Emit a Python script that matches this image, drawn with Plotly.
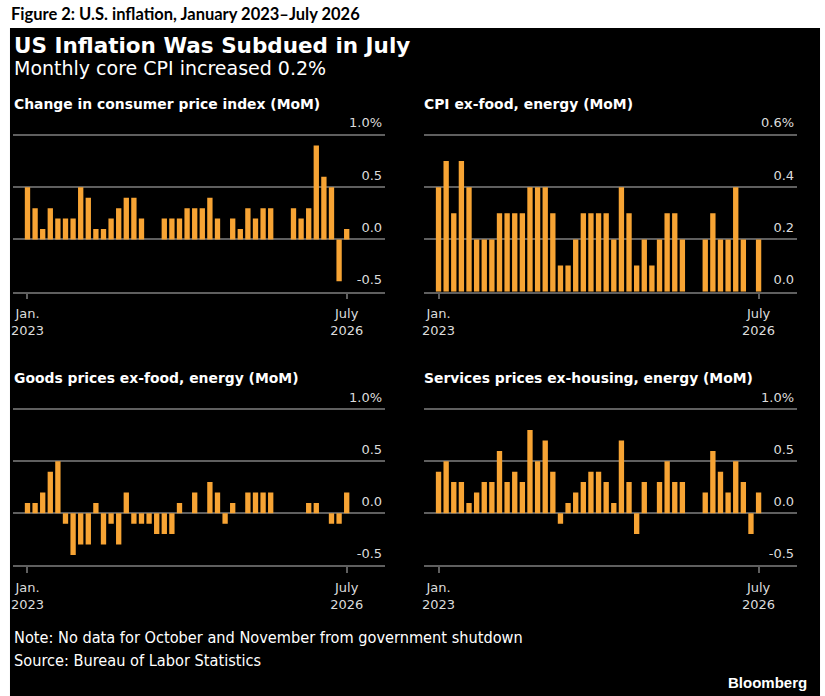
import plotly.graph_objects as go

W, H = 825, 696

months = [
    "2023-01", "2023-02", "2023-03", "2023-04", "2023-05", "2023-06", "2023-07", "2023-08",
    "2023-09", "2023-10", "2023-11", "2023-12", "2024-01", "2024-02", "2024-03", "2024-04",
    "2024-05", "2024-06", "2024-07", "2024-08", "2024-09", "2024-10", "2024-11", "2024-12",
    "2025-01", "2025-02", "2025-03", "2025-04", "2025-05", "2025-06", "2025-07", "2025-08",
    "2025-09", "2025-10", "2025-11", "2025-12", "2026-01", "2026-02", "2026-03", "2026-04",
    "2026-05", "2026-06", "2026-07",
]
x_tick_labels = ["Jan.<br>2023", "July<br>2026"]

cpi = [0.5, 0.3, 0.1, 0.3, 0.2, 0.2, 0.2, 0.5, 0.4, 0.1, 0.1, 0.2, 0.3, 0.4, 0.4, 0.2,
       0.0, 0.0, 0.2, 0.2, 0.2, 0.3, 0.3, 0.3, 0.4, 0.2, 0.0, 0.2, 0.1, 0.3, 0.2, 0.3,
       0.3, None, None, 0.3, 0.2, 0.3, 0.9, 0.6, 0.5, -0.4, 0.1]
core = [0.4, 0.5, 0.3, 0.5, 0.4, 0.2, 0.2, 0.2, 0.3, 0.3, 0.3, 0.3, 0.4, 0.4, 0.4, 0.3,
        0.1, 0.1, 0.2, 0.3, 0.3, 0.3, 0.3, 0.2, 0.4, 0.3, 0.1, 0.2, 0.1, 0.2, 0.3, 0.3,
        0.2, None, None, 0.2, 0.3, 0.2, 0.2, 0.4, 0.2, 0.0, 0.2]
goods = [0.1, 0.1, 0.2, 0.4, 0.5, -0.1, -0.4, -0.3, -0.3, 0.1, -0.3, -0.1, -0.3, 0.2, -0.1, -0.1,
         -0.1, -0.2, -0.2, -0.2, 0.1, 0.0, 0.2, 0.0, 0.3, 0.2, -0.1, 0.1, 0.0, 0.2, 0.2, 0.2,
         0.2, None, None, 0.0, 0.0, 0.1, 0.1, 0.0, -0.1, -0.1, 0.2]
services = [0.4, 0.5, 0.3, 0.3, 0.1, 0.2, 0.3, 0.3, 0.6, 0.3, 0.4, 0.3, 0.8, 0.5, 0.7, 0.4,
            -0.1, 0.1, 0.2, 0.3, 0.4, 0.4, 0.3, 0.1, 0.7, 0.3, -0.2, 0.3, 0.0, 0.3, 0.5, 0.3,
            0.3, None, None, 0.2, 0.6, 0.4, 0.2, 0.5, 0.3, -0.2, 0.2]

wide_ticks = [-0.5, 0.0, 0.5, 1.0]
wide_labels = ["-0.5", "0.0", "0.5", "1.0%"]
core_ticks = [0.0, 0.2, 0.4, 0.6]
core_labels = ["0.0", "0.2", "0.4", "0.6%"]

panel_titles = [
    "Change in consumer price index (MoM)",
    "CPI ex-food, energy (MoM)",
    "Goods prices ex-food, energy (MoM)",
    "Services prices ex-housing, energy (MoM)",
]

ORANGE = "#F7A434"
GRID = "#5f5f5f"
LABEL = "#dcdcdc"
TICKFONT = dict(family="DejaVu Sans", size=13, color=LABEL)


def px_x(p):
    return p / W


def px_y(p):
    return 1 - p / H


fig = go.Figure()

series = [cpi, core, goods, services]
axis_ids = [("x", "y"), ("x2", "y2"), ("x3", "y3"), ("x4", "y4")]
for vals, (xa, ya) in zip(series, axis_ids):
    fig.add_trace(go.Bar(x=months, y=vals, xaxis=xa, yaxis=ya,
                         marker=dict(color=ORANGE, line=dict(width=0)),
                         hoverinfo="skip", showlegend=False))

PAD = 20  # blank space above the top gridline inside each plot area
left_dom = [px_x(10.7), px_x(384)]
right_dom = [px_x(422.7), px_x(797)]
top_dom = [px_y(291.7), px_y(135 - PAD)]
bot_dom = [px_y(565.3), px_y(409.3 - PAD)]

top_wide_rng = [-0.5, 1.0 + PAD * 1.5 / (291.7 - 135)]
top_core_rng = [0.0, 0.6 + PAD * 0.6 / (291.7 - 135)]
bot_wide_rng = [-0.5, 1.0 + PAD * 1.5 / (565.3 - 409.3)]

XR = [-1.95, 47.05]


def xaxis(domain, anchor):
    return dict(domain=domain, anchor=anchor, type="category", range=XR,
                tickvals=[months[0], months[-1]], ticktext=x_tick_labels,
                showgrid=False, zeroline=False, showline=True, linecolor=GRID, linewidth=1.5,
                ticks="outside", ticklen=6, tickwidth=1.5, tickcolor=GRID,
                ticklabelstandoff=3, tickfont=TICKFONT, fixedrange=True)


def yaxis(domain, anchor, rng, tv, tt):
    return dict(domain=domain, anchor=anchor, side="right", range=rng,
                tickvals=tv, ticktext=tt, ticklabelposition="inside top",
                ticklabeloverflow="allow", ticklabelshift=-3,
                showgrid=True, gridcolor=GRID, gridwidth=1.5, zeroline=False,
                showline=False, ticks="", tickfont=TICKFONT, fixedrange=True)


fig.update_layout(
    width=W, height=H, margin=dict(l=0, r=0, t=0, b=0),
    paper_bgcolor="white", plot_bgcolor="black", bargap=0.3,
    xaxis=xaxis(left_dom, "y"),
    yaxis=yaxis(top_dom, "x", top_wide_rng, wide_ticks, wide_labels),
    xaxis2=xaxis(right_dom, "y2"),
    yaxis2=yaxis(top_dom, "x2", top_core_rng, core_ticks, core_labels),
    xaxis3=xaxis(left_dom, "y3"),
    yaxis3=yaxis(bot_dom, "x3", bot_wide_rng, wide_ticks, wide_labels),
    xaxis4=xaxis(right_dom, "y4"),
    yaxis4=yaxis(bot_dom, "x4", bot_wide_rng, wide_ticks, wide_labels),
)

fig.add_shape(type="rect", xref="paper", yref="paper",
              x0=px_x(8), x1=px_x(820), y0=0, y1=px_y(28),
              fillcolor="black", line=dict(width=0), layer="below")

anns = []


def ann(text, x, y, font, xanchor="left"):
    anns.append(dict(text=text, x=px_x(x), y=px_y(y), xref="paper", yref="paper",
                     xanchor=xanchor, yanchor="middle", showarrow=False, font=font))


ann("<b>Figure 2: U.S. inflation, January 2023–July 2026</b>", 7, 14,
    dict(family="Lato", size=16.5, color="black"))
ann("<b>US Inflation Was Subdued in July</b>", 10, 45,
    dict(family="DejaVu Sans", size=21.5, color="white"))
ann("Monthly core CPI increased 0.2%", 10, 68,
    dict(family="DejaVu Sans", size=19, color="white"))
pt_font = dict(family="DejaVu Sans", size=13.9, color="white")
ann("<b>" + panel_titles[0] + "</b>", 10, 104, pt_font)
ann("<b>" + panel_titles[1] + "</b>", 421, 104, pt_font)
ann("<b>" + panel_titles[2] + "</b>", 10, 378, pt_font)
ann("<b>" + panel_titles[3] + "</b>", 421, 378, pt_font)
note_font = dict(family="DejaVu Sans Condensed", size=16.2, color="white")
ann("Note: No data for October and November from government shutdown", 10, 637, note_font)
ann("Source: Bureau of Labor Statistics", 10, 660, note_font)
ann("<b>Bloomberg</b>", 809, 682, dict(family="Liberation Sans", size=15, color="white"),
    xanchor="right")

fig.update_layout(annotations=anns)

fig.write_html(
    "out.html",
    config={"displayModeBar": False},
    post_script="document.body.style.margin='0';document.body.style.overflow='hidden';",
)
